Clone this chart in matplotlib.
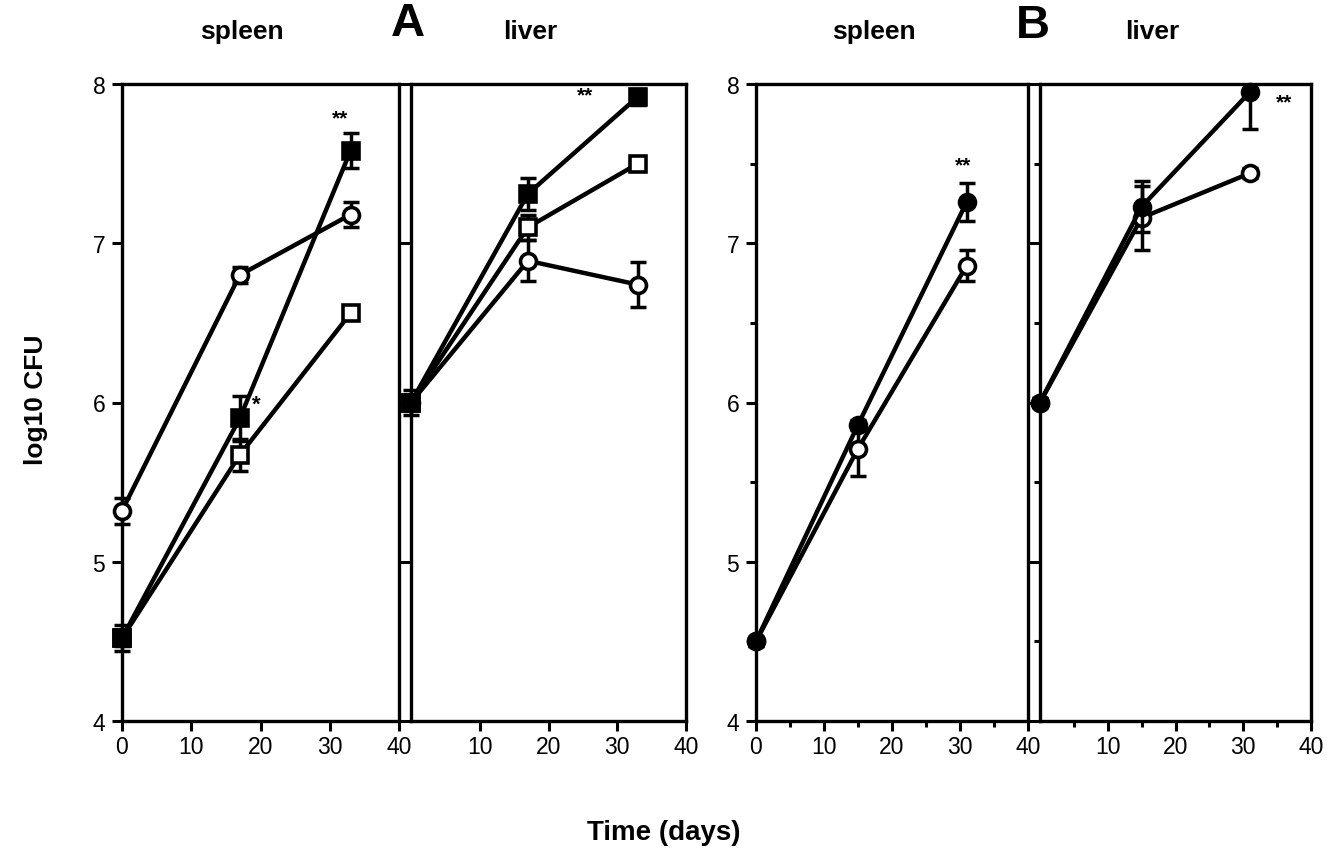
import matplotlib.pyplot as plt
from matplotlib.ticker import FixedLocator
from matplotlib.transforms import Bbox, TransformedBbox

plt.rcParams['font.family'] = ['Liberation Sans', 'DejaVu Sans']

days_a = [0, 17, 33]
days_b = [0, 15, 31]

# panel A, spleen
a_spl_circle = [5.32, 6.80, 7.18]
a_spl_circle_err = [0.08, 0.05, 0.08]
a_spl_fsq = [4.52, 5.90, 7.58]
a_spl_fsq_err = [0.08, 0.14, 0.11]
a_spl_osq = [4.52, 5.67, 6.56]
a_spl_osq_err = [0.05, 0.10, 0.02]

# panel A, liver
a_liv_fsq = [6.00, 7.31, 7.92]
a_liv_fsq_err = [0.08, 0.10, 0.05]
a_liv_osq = [6.00, 7.10, 7.50]
a_liv_osq_err = [0.05, 0.08, 0.04]
a_liv_circle = [6.00, 6.89, 6.74]
a_liv_circle_err = [0.05, 0.13, 0.14]

# panel B, spleen
b_spl_fcirc = [4.50, 5.86, 7.26]
b_spl_fcirc_err = [0.03, 0.03, 0.12]
b_spl_ocirc = [4.50, 5.71, 6.86]
b_spl_ocirc_err = [0.03, 0.17, 0.10]

# panel B, liver
b_liv_fcirc = [6.00, 7.23, 7.95]
b_liv_fcirc_err = [0.03, 0.16, 0.23]
b_liv_ocirc = [6.00, 7.16, 7.44]
b_liv_ocirc_err = [0.03, 0.20, 0.03]

W, H = 1328, 853
fig = plt.figure(figsize=(W / 100, H / 100), dpi=100)

def box(x0, x1):
    return [x0 / W, 1 - 722 / H, (x1 - x0) / W, (722 - 85) / H]

ax_as = fig.add_axes(box(122, 399))
ax_al = fig.add_axes(box(411, 686))
ax_bs = fig.add_axes(box(756, 1028))
ax_bl = fig.add_axes(box(1040, 1311))

gap = 12 * 0.72


def series(ax, x, y, err, marker, face, z):
    clip = TransformedBbox(Bbox([[-0.1, 0.0], [1.1, 1.0]]), ax.transAxes)
    eb = ax.errorbar(x, y, yerr=err, fmt='none', ecolor='black',
                     elinewidth=2.5, capsize=5.5, capthick=2.5, zorder=z)
    for art in list(eb.lines[1]) + list(eb.lines[2]):
        art.set_clip_box(clip)
    ax.plot(x, y, color='black', lw=3.2, marker=marker, ms=11.5,
            mfc=face, mec='black', mew=2.6, clip_on=False, zorder=z + 0.5)


def style(ax, left, minor):
    ax.set_xlim(0, 40)
    ax.set_ylim(4, 8)
    for s in ax.spines.values():
        s.set_linewidth(2.4)
    ax.tick_params(direction='out', width=2.2, labelsize=16.5, top=False, right=False)
    ax.tick_params(axis='x', length=7, pad=3)
    if left:
        ax.xaxis.set_major_locator(FixedLocator([0, 10, 20, 30, 40]))
        ax.yaxis.set_major_locator(FixedLocator([4, 5, 6, 7, 8]))
        ax.tick_params(axis='y', length=7, pad=5)
    else:
        ax.xaxis.set_major_locator(FixedLocator([10, 20, 30, 40]))
        ax.yaxis.set_major_locator(FixedLocator([4, 5, 6, 7, 8]))
        ax.tick_params(axis='y', length=gap, labelleft=False)
    if minor:
        ax.xaxis.set_minor_locator(FixedLocator([5, 15, 25, 35]))
        ax.yaxis.set_minor_locator(FixedLocator([4.5, 5.5, 6.5, 7.5]))
        ax.tick_params(which='minor', direction='out', width=2.2, length=4.5)


series(ax_as, days_a, a_spl_osq, a_spl_osq_err, 's', 'white', 2)
series(ax_as, days_a, a_spl_fsq, a_spl_fsq_err, 's', 'black', 3)
series(ax_as, days_a, a_spl_circle, a_spl_circle_err, 'o', 'white', 4)
ax_as.text(19.4, 5.99, '*', fontsize=16, fontweight='bold', ha='center', va='center')
ax_as.text(31.5, 7.79, '**', fontsize=15, fontweight='bold', ha='center', va='center')

series(ax_al, days_a, a_liv_circle, a_liv_circle_err, 'o', 'white', 2)
series(ax_al, days_a, a_liv_osq, a_liv_osq_err, 's', 'white', 3)
series(ax_al, days_a, a_liv_fsq, a_liv_fsq_err, 's', 'black', 4)
ax_al.text(25.3, 7.93, '**', fontsize=15, fontweight='bold', ha='center', va='center')

series(ax_bs, days_b, b_spl_ocirc, b_spl_ocirc_err, 'o', 'white', 2)
series(ax_bs, days_b, b_spl_fcirc, b_spl_fcirc_err, 'o', 'black', 3)
ax_bs.text(30.5, 7.49, '**', fontsize=15, fontweight='bold', ha='center', va='center')

series(ax_bl, days_b, b_liv_ocirc, b_liv_ocirc_err, 'o', 'white', 2)
series(ax_bl, days_b, b_liv_fcirc, b_liv_fcirc_err, 'o', 'black', 3)
ax_bl.text(36, 7.89, '**', fontsize=15, fontweight='bold', ha='center', va='center')

style(ax_as, True, False)
style(ax_al, False, False)
style(ax_bs, True, True)
style(ax_bl, False, True)

fig.text(408 / W, 1 - 24 / H, 'A', fontsize=34, fontweight='bold', ha='center', va='center')
fig.text(1033 / W, 1 - 26 / H, 'B', fontsize=34, fontweight='bold', ha='center', va='center')
for xt, label in [(242, 'spleen'), (530, 'liver'), (874, 'spleen'), (1152, 'liver')]:
    fig.text(xt / W, 1 - 32 / H, label, fontsize=19, fontweight='bold', ha='center', va='center')

fig.text(36 / W, 1 - 400 / H, 'log10 CFU', fontsize=19, fontweight='bold',
         rotation=90, ha='center', va='center')
fig.text(664 / W, 1 - 833 / H, 'Time (days)', fontsize=20, fontweight='bold',
         ha='center', va='center')

fig.savefig('out.png', dpi=100)
